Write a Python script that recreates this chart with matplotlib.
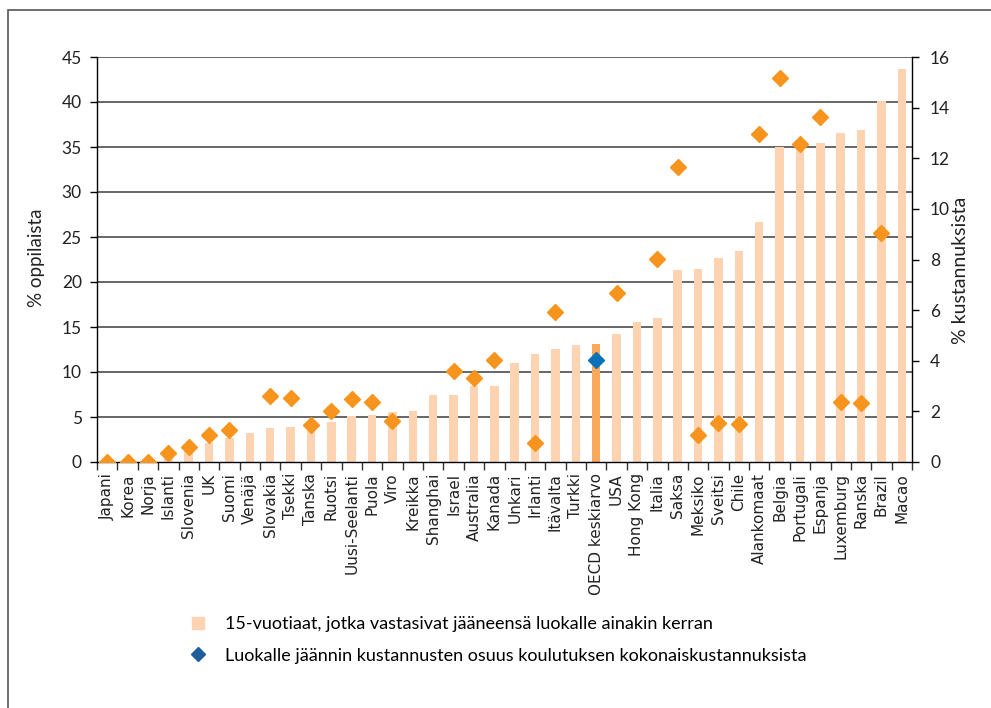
import numpy as np
import matplotlib.pyplot as plt
from matplotlib.lines import Line2D
from matplotlib.patches import Rectangle

plt.rcParams['font.family'] = ['Lato', 'DejaVu Sans']

countries = ["Japani", "Korea", "Norja", "Islanti", "Slovenia", "UK", "Suomi", "Venäjä",
             "Slovakia", "Tsekki", "Tanska", "Ruotsi", "Uusi-Seelanti", "Puola", "Viro",
             "Kreikka", "Shanghai", "Israel", "Australia", "Kanada", "Unkari", "Irlanti",
             "Itävalta", "Turkki", "OECD keskiarvo", "USA", "Hong Kong", "Italia", "Saksa",
             "Meksiko", "Sveitsi", "Chile", "Alankomaat", "Belgia", "Portugali", "Espanja",
             "Luxemburg", "Ranska", "Brazil", "Macao"]

# % of 15-year-olds who repeated a grade at least once (left axis)
repeaters = [0.0, 0.0, 0.0, 0.8, 1.3, 2.15, 2.7, 3.2,
             3.75, 3.9, 4.3, 4.5, 5.1, 5.25, 5.55,
             5.7, 7.5, 7.5, 8.4, 8.4, 11.0, 11.95,
             12.55, 13.0, 13.1, 14.2, 15.55, 15.95, 21.3,
             21.5, 22.7, 23.4, 26.7, 34.95, 35.0, 35.4,
             36.6, 36.9, 40.15, 43.7]

# share of repetition costs of total education costs (right axis), None = no data
costs = [0.0, 0.0, 0.0, 0.36, 0.59, 1.05, 1.25, None,
         2.6, 2.54, 1.47, 2.02, 2.49, 2.37, 1.63,
         None, None, 3.61, 3.33, 4.03, None, 0.74,
         5.94, None, 4.03, 6.69, None, 8.01, 11.67,
         1.05, 1.54, 1.49, 12.94, 15.19, 12.57, 13.64,
         2.38, 2.32, 9.06, None]

bar_color = "#fdd3b2"
oecd_bar_color = "#f9a85c"
diamond_color = "#f7941d"
oecd_diamond_color = "#0b72b9"

W, H = 991, 708
fig = plt.figure(figsize=(W / 100, H / 100), dpi=100)

# outer frame (cut off at right and bottom like the original)
fig.add_artist(Rectangle((8 / W, -0.1), 1.2, 1.1 - 10 / H, transform=fig.transFigure,
                         fill=False, edgecolor="#555555", linewidth=1.2))

ax = fig.add_axes([97 / W, (H - 462) / H, (912 - 97) / W, (462 - 57) / H])
x = np.arange(len(countries))
oecd_idx = countries.index("OECD keskiarvo")
colors = [oecd_bar_color if i == oecd_idx else bar_color for i in x]
ax.bar(x, repeaters, width=0.42, color=colors, zorder=2)

ax.set_xlim(-0.5, len(countries) - 0.5)
ax.set_ylim(0, 45)
ax.set_yticks(np.arange(0, 46, 5))
for v in np.arange(5, 46, 5):
    ax.axhline(v, color="#4d4d4d", linewidth=1.2, zorder=1)
ax.set_xticks(x)
ax.set_xticklabels(countries, rotation=90, fontsize=11, color="#222222",
                   family=['DejaVu Sans'])
ax.set_xticks(np.arange(-0.5, len(countries), 1), minor=True)
ax.tick_params(axis="x", which="major", length=0, pad=8)
ax.tick_params(axis="x", which="minor", length=6, width=1, color="#333333", direction="out")
ax.tick_params(axis="y", length=5, width=1, labelsize=12.5, labelcolor="#222222", pad=6)
ax.set_ylabel("% oppilaista", fontsize=13.5, color="#222222")
ax.yaxis.set_label_coords(-0.064, 0.504)
for s in ["top", "right"]:
    ax.spines[s].set_visible(False)
ax.spines["left"].set_linewidth(1)
ax.spines["bottom"].set_linewidth(1)

ax2 = ax.twinx()
ax2.set_ylim(0, 16)
ax2.set_yticks(np.arange(0, 17, 2))
ax2.tick_params(axis="y", length=5, width=1, labelsize=12.5, labelcolor="#222222", pad=8)
ax2.set_ylabel("% kustannuksista", fontsize=14, color="#222222")
ax2.yaxis.set_label_coords(1.049, 0.474)
for s in ["top", "left", "bottom"]:
    ax2.spines[s].set_visible(False)
ax2.spines["right"].set_linewidth(1)

cx = [i for i, c in enumerate(costs) if c is not None and i != oecd_idx]
cy = [costs[i] for i in cx]
ax2.plot(cx, cy, linestyle="none", marker="D", markersize=8.5,
         color=diamond_color, zorder=3)
ax2.plot([oecd_idx], [costs[oecd_idx]], linestyle="none", marker="D", markersize=8.5,
         color=oecd_diamond_color, zorder=4)

handles = [
    Line2D([], [], linestyle="none", marker="s", markersize=8, color=bar_color),
    Line2D([], [], linestyle="none", marker="D", markersize=7, color="#1f5d9c"),
]
labels = [
    "15-vuotiaat, jotka vastasivat jääneensä luokalle ainakin kerran",
    "Luokalle jäännin kustannusten osuus koulutuksen kokonaiskustannuksista",
]
fig.legend(handles, labels, loc="upper left", bbox_to_anchor=(182 / W, 1 - 609 / H),
           frameon=False, fontsize=13, handlelength=1, handletextpad=1.0,
           labelspacing=0.85, borderaxespad=0)

fig.savefig("out.png", dpi=100)
